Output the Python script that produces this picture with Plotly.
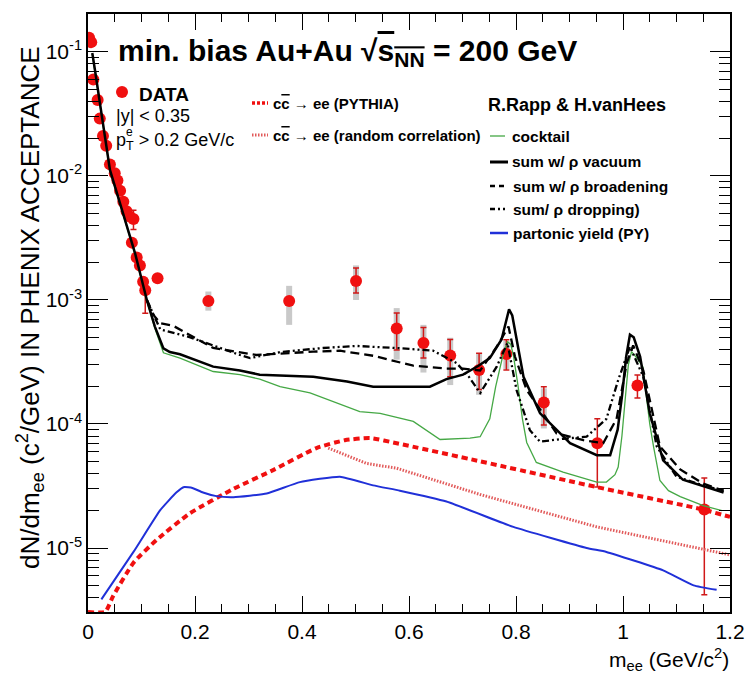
import plotly.graph_objects as go

# ---------------- data ----------------
data_x = [0.002, 0.006, 0.010, 0.018, 0.022, 0.028, 0.034, 0.041, 0.050, 0.055, 0.060,
          0.066, 0.072, 0.078, 0.085, 0.082, 0.091, 0.097, 0.103, 0.107, 0.130,
          0.225, 0.376, 0.501, 0.577, 0.627, 0.677, 0.731, 0.782, 0.852, 0.952, 1.027, 1.152]
data_y = [0.13, 0.12, 0.060, 0.041, 0.029, 0.021, 0.0175, 0.0124, 0.0105, 0.0092, 0.0076,
          0.0062, 0.0052, 0.0047, 0.0045, 0.0029, 0.0022, 0.0019, 0.0014, 0.0012, 0.0015,
          9.8e-4, 9.8e-4, 1.42e-3, 5.9e-4, 4.5e-4, 3.56e-4, 2.72e-4, 3.67e-4, 1.49e-4, 7.0e-5, 2.04e-4, 2.04e-5]
stat_plus = [0.004, 0.004, 0.002, 0.0015, 0.001, 0.0008, 0.0006, 0.0005, 0.0004, 0.0004, 0.0003,
             0.0003, 0.0002, 0.0002, 0.0008, 0.00015, 0.00012, 0.0001, 0.0001, 0.0001, 0.00008,
             5e-5, 5e-5, 3.9e-4, 1.95e-4, 1.5e-4, 1.24e-4, 1.0e-4, 1.1e-4, 5.1e-5, 4.0e-5, 4.4e-5, 1.63e-5]
stat_minus = [0.004, 0.004, 0.002, 0.0015, 0.001, 0.0008, 0.0006, 0.0005, 0.0004, 0.0004, 0.0003,
              0.0003, 0.0002, 0.0002, 0.0008, 0.00015, 0.00012, 0.0001, 0.0001, 0.00042, 0.00008,
              5e-5, 5e-5, 2.8e-4, 1.95e-4, 1.1e-4, 1.16e-4, 0.82e-4, 0.95e-4, 5.1e-5, 3.9e-5, 4.2e-5, 1.62e-5]
syst_plus = [0]*21 + [1.9e-4, 3.2e-4, 4.8e-4, 2.7e-4, 1.8e-4, 1.4e-4, 1.0e-4, 1.0e-4, 4.5e-5, 0, 0, 0]
syst_minus = [0]*21 + [1.6e-4, 3.5e-4, 4.2e-4, 2.6e-4, 1.9e-4, 1.5e-4, 1.0e-4, 0.9e-4, 5.7e-5, 0, 0, 0]

cocktail_x = [0.008, 0.013, 0.041, 0.088, 0.110, 0.125, 0.141, 0.172, 0.234, 0.284, 0.321, 0.359,
              0.415, 0.508, 0.546, 0.608, 0.658, 0.714, 0.733, 0.751, 0.762, 0.775, 0.784, 0.790,
              0.795, 0.804, 0.812, 0.820, 0.838, 0.888, 0.951, 0.969, 0.985, 0.991, 0.998, 1.004,
              1.010, 1.016, 1.026, 1.037, 1.044, 1.050, 1.057, 1.069, 1.085, 1.107, 1.150, 1.185]
cocktail_y = [0.096, 0.070, 0.0110, 0.00233, 9.8e-4, 5.9e-4, 3.75e-4, 3.4e-4, 2.65e-4, 2.5e-4, 2.3e-4, 2.0e-4,
              1.78e-4, 1.26e-4, 1.22e-4, 1.05e-4, 7.5e-5, 7.7e-5, 7.9e-5, 1.1e-4, 2.0e-4, 3.5e-4, 4.6e-4, 4.4e-4,
              3.6e-4, 2.0e-4, 1.1e-4, 7.1e-5, 4.9e-5, 4.1e-5, 3.4e-5, 3.4e-5, 3.9e-5, 4.5e-5, 8e-5, 1.56e-4,
              3.0e-4, 3.83e-4, 3.4e-4, 2.9e-4, 1.56e-4, 1.0e-4, 6.6e-5, 3.5e-5, 2.9e-5, 2.6e-5, 2.2e-5, 2.0e-5]

vacuum_x = [0.008, 0.013, 0.041, 0.088, 0.110, 0.125, 0.141, 0.153, 0.172, 0.234, 0.284, 0.321,
            0.421, 0.484, 0.533, 0.639, 0.670, 0.701, 0.730, 0.751, 0.773, 0.780, 0.787, 0.793,
            0.798, 0.814, 0.845, 0.901, 0.951, 0.976, 0.990, 0.998, 1.006, 1.013, 1.020, 1.032,
            1.050, 1.075, 1.112, 1.163, 1.188]
vacuum_y = [0.098, 0.0716, 0.0112, 0.00238, 1.0e-3, 6.1e-4, 4.07e-4, 3.8e-4, 3.65e-4, 2.9e-4, 2.7e-4, 2.5e-4,
            2.4e-4, 2.2e-4, 2.0e-4, 2.0e-4, 2.3e-4, 2.5e-4, 2.95e-4, 3.4e-4, 4.8e-4, 6.5e-4, 8.4e-4, 7.5e-4,
            5.8e-4, 2.4e-4, 1.22e-4, 7.0e-5, 5.6e-5, 5.6e-5, 9e-5, 1.66e-4, 3.5e-4, 5.25e-4, 5.0e-4, 3.5e-4,
            1.22e-4, 5.1e-5, 3.55e-5, 3.0e-5, 2.8e-5]

broad_x = [0.110, 0.122, 0.135, 0.159, 0.191, 0.234, 0.265, 0.315, 0.421, 0.471, 0.533, 0.608,
           0.670, 0.701, 0.733, 0.764, 0.786, 0.798, 0.820, 0.876, 0.926, 0.963, 0.988, 1.007,
           1.019, 1.038, 1.069, 1.107, 1.150, 1.188]
broad_y = [1.0e-3, 7.6e-4, 6.5e-4, 6.2e-4, 5.2e-4, 4.1e-4, 3.9e-4, 3.6e-4, 3.83e-4, 3.9e-4, 3.55e-4, 2.95e-4,
           2.8e-4, 2.8e-4, 2.7e-4, 4.2e-4, 6.1e-4, 3.5e-4, 1.88e-4, 8.4e-5, 7.4e-5, 7.0e-5, 1.1e-4, 3.1e-4,
           4.3e-4, 2.7e-4, 6.6e-5, 4.3e-5, 3.3e-5, 2.9e-5]

drop_x = [0.110, 0.122, 0.135, 0.191, 0.253, 0.284, 0.303, 0.359, 0.439, 0.501, 0.577, 0.645,
          0.689, 0.712, 0.733, 0.764, 0.784, 0.801, 0.826, 0.845, 0.888, 0.932, 0.969, 0.991,
          1.013, 1.038, 1.063, 1.100, 1.150, 1.188]
drop_y = [1.0e-3, 7.6e-4, 5.8e-4, 5.0e-4, 4.0e-4, 3.6e-4, 3.4e-4, 3.8e-4, 4.1e-4, 4.26e-4, 4.1e-4, 3.9e-4,
          3.1e-4, 2.4e-4, 1.78e-4, 2.9e-4, 4.5e-4, 1.88e-4, 8.9e-5, 7.2e-5, 7.6e-5, 7.9e-5, 1.1e-4, 2.26e-4,
          4.2e-4, 2.4e-4, 6.6e-5, 3.76e-5, 3.2e-5, 2.9e-5]

charm_x = [0.0, 0.032, 0.047, 0.085, 0.128, 0.19, 0.272, 0.346, 0.427, 0.48, 0.527, 0.577,
           0.733, 0.951, 1.150, 1.2]
charm_y = [3.05e-6, 3.05e-6, 4.1e-6, 7.6e-6, 1.16e-5, 1.9e-5, 3.0e-5, 4.25e-5, 6.4e-5, 7.4e-5, 7.7e-5, 7.0e-5,
           5.0e-5, 3.1e-5, 2.04e-5, 1.78e-5]

random_x = [0.449, 0.521, 0.577, 0.733, 0.951, 1.2]
random_y = [6.4e-5, 4.8e-5, 4.4e-5, 2.7e-5, 1.48e-5, 8.8e-6]

parton_x = [0.025, 0.085, 0.135, 0.165, 0.180, 0.195, 0.215, 0.240, 0.272, 0.334, 0.396, 0.471, 0.533,
            0.583, 0.670, 0.795, 0.932, 0.969, 1.075, 1.132, 1.175]
parton_y = [3.85e-6, 9.3e-6, 2.02e-5, 2.8e-5, 3.1e-5, 3.05e-5, 2.8e-5, 2.62e-5, 2.57e-5, 2.75e-5, 3.4e-5, 3.76e-5, 3.2e-5,
            2.9e-5, 2.37e-5, 1.48e-5, 1.0e-5, 9.3e-6, 6.6e-6, 5.0e-6, 4.6e-6]

x_ticks = [0, 0.2, 0.4, 0.6, 0.8, 1.0, 1.2]
x_ticklabels = ["0", "0.2", "0.4", "0.6", "0.8", "1", "1.2"]
y_ticks = [1e-5, 1e-4, 1e-3, 1e-2, 1e-1]
y_ticklabels = ["10<sup>-5</sup>", "10<sup>-4</sup>", "10<sup>-3</sup>", "10<sup>-2</sup>", "10<sup>-1</sup>"]

# ---------------- styling ----------------
FONT = "Liberation Sans, Arial, sans-serif"
RED = "#f01010"
RED_LIGHT = "#e25a5a"
GREEN = "#45a845"
BLUE = "#2030d8"
W, H = 745, 676
L, R, T, B = 88, 730, 14, 612


def px(x):
    return (x - L) / (R - L)


def py(y):
    return (B - y) / (B - T)


fig = go.Figure()

# systematic (gray bands)
fig.add_trace(go.Scatter(
    x=data_x, y=data_y, mode="markers", marker=dict(size=1, opacity=0),
    error_y=dict(type="data", symmetric=False, array=syst_plus, arrayminus=syst_minus,
                 color="#c9c9c9", thickness=6, width=0),
    showlegend=False, hoverinfo="skip"))

# data with stat errors
fig.add_trace(go.Scatter(
    x=data_x, y=data_y, mode="markers",
    marker=dict(size=12, color=RED, line=dict(width=0)),
    error_y=dict(type="data", symmetric=False, array=stat_plus, arrayminus=stat_minus,
                 color="#d01818", thickness=1.5, width=3),
    showlegend=False))

fig.add_trace(go.Scatter(x=charm_x, y=charm_y, mode="lines",
                         line=dict(color=RED, width=4, dash="6px,4px", shape="spline", smoothing=0.5),
                         showlegend=False))
fig.add_trace(go.Scatter(x=random_x, y=random_y, mode="lines",
                         line=dict(color=RED_LIGHT, width=3, dash="1.5px,1.5px"),
                         showlegend=False))
fig.add_trace(go.Scatter(x=parton_x, y=parton_y, mode="lines",
                         line=dict(color=BLUE, width=2, shape="spline", smoothing=0.4),
                         showlegend=False))
fig.add_trace(go.Scatter(x=cocktail_x, y=cocktail_y, mode="lines",
                         line=dict(color=GREEN, width=1.3), showlegend=False))
fig.add_trace(go.Scatter(x=drop_x, y=drop_y, mode="lines",
                         line=dict(color="black", width=2.3, dash="7px,3px,2px,3px,2px,3px"),
                         showlegend=False))
fig.add_trace(go.Scatter(x=broad_x, y=broad_y, mode="lines",
                         line=dict(color="black", width=2.3, dash="9px,5px"), showlegend=False))
fig.add_trace(go.Scatter(x=vacuum_x, y=vacuum_y, mode="lines",
                         line=dict(color="black", width=2.5), showlegend=False))

# ---------------- annotations / legend ----------------
ann = []


def text(x, y, s, size, anchor="left", **kw):
    ann.append(dict(x=px(x), y=py(y), xref="paper", yref="paper", text=s, showarrow=False,
                    xanchor=anchor, yanchor="middle", font=dict(family=FONT, size=size, color="black"), **kw))


OVC = "c<span style='text-decoration:overline'>c</span>"
text(116, 53, "<b>min. bias Au+Au √<span style='text-decoration:overline'>s<sub>NN</sub></span> = 200 GeV</b>", 30)
text(137, 94, "<b>DATA</b>", 19)
text(114, 116, "|y| < 0.35", 18)
text(114, 141, "p<sub>T</sub> > 0.2 GeV/c", 18)
text(124, 132, "e", 12)
text(271, 103, "<b>" + OVC + " → ee (PYTHIA)</b>", 15)
text(271, 135, "<b>" + OVC + " → ee (random correlation)</b>", 15)
text(486, 105, "<b>R.Rapp & H.vanHees</b>", 18)
text(510, 136, "<b>cocktail</b>", 15.5)
text(510, 162, "<b>sum w/ ρ vacuum</b>", 15.5)
text(511, 186, "<b>sum w/ ρ broadening</b>", 15.5)
text(511, 209, "<b>sum/ ρ dropping)</b>", 15.5)
text(511, 233, "<b>partonic yield (PY)</b>", 15.5)
text(731, 659, "m<sub>ee</sub> (GeV/c<sup>2</sup>)", 21, anchor="right")
ann.append(dict(x=px(30), y=py(308), xref="paper", yref="paper", showarrow=False,
                text="dN/dm<sub>ee</sub> (c<sup>2</sup>/GeV) IN PHENIX ACCEPTANCE",
                textangle=-90, xanchor="center", yanchor="middle",
                font=dict(family=FONT, size=26, color="black")))

shapes = []


def lshape(x0, x1, y, color, width, dash="solid"):
    shapes.append(dict(type="line", xref="paper", yref="paper", x0=px(x0), x1=px(x1), y0=py(y), y1=py(y),
                       line=dict(color=color, width=width, dash=dash)))


shapes.append(dict(type="circle", xref="paper", yref="paper", x0=px(116), x1=px(128), y0=py(98), y1=py(86),
                   fillcolor=RED, line=dict(width=0)))
lshape(252, 268, 103, RED, 3.5, "3px,2px")
lshape(252, 268, 135, RED_LIGHT, 3, "1.5px,1.5px")
lshape(490, 505, 136, GREEN, 1.3)
lshape(490, 508, 162, "black", 3)
lshape(490, 508, 186, "black", 2.5, "5px,4px")
lshape(490, 508, 209, "black", 2.5, "5px,3px,2px,3px,2px,3px")
lshape(490, 508, 233, BLUE, 2.5)

minor_y = [k * 10.0 ** e for e in range(-6, 0) for k in range(2, 10)]

fig.update_layout(
    width=W, height=H,
    margin=dict(l=L, r=W - R, t=T, b=H - B, pad=0, autoexpand=False),
    paper_bgcolor="white", plot_bgcolor="white",
    annotations=ann, shapes=shapes,
    xaxis=dict(range=[0, 1.2], tickvals=x_ticks, ticktext=x_ticklabels, automargin=False,
               ticks="inside", ticklen=16, tickwidth=1.2, tickcolor="black",
               showline=True, linecolor="black", linewidth=1.5, mirror="ticks",
               showgrid=False, zeroline=False,
               tickfont=dict(family=FONT, size=21, color="black"),
               minor=dict(dtick=0.05, ticks="inside", ticklen=8, tickwidth=1.2, tickcolor="black", showgrid=False)),
    yaxis=dict(type="log", range=[-5.516, -0.694], tickvals=y_ticks, ticktext=y_ticklabels, automargin=False,
               ticks="inside", ticklen=20, tickwidth=1.2, tickcolor="black",
               showline=True, linecolor="black", linewidth=1.5, mirror="ticks",
               showgrid=False, zeroline=False,
               tickfont=dict(family=FONT, size=21, color="black"),
               minor=dict(tickvals=minor_y, ticks="inside", ticklen=11, tickwidth=1.2, tickcolor="black", showgrid=False)),
)

fig.write_html("out.html")
